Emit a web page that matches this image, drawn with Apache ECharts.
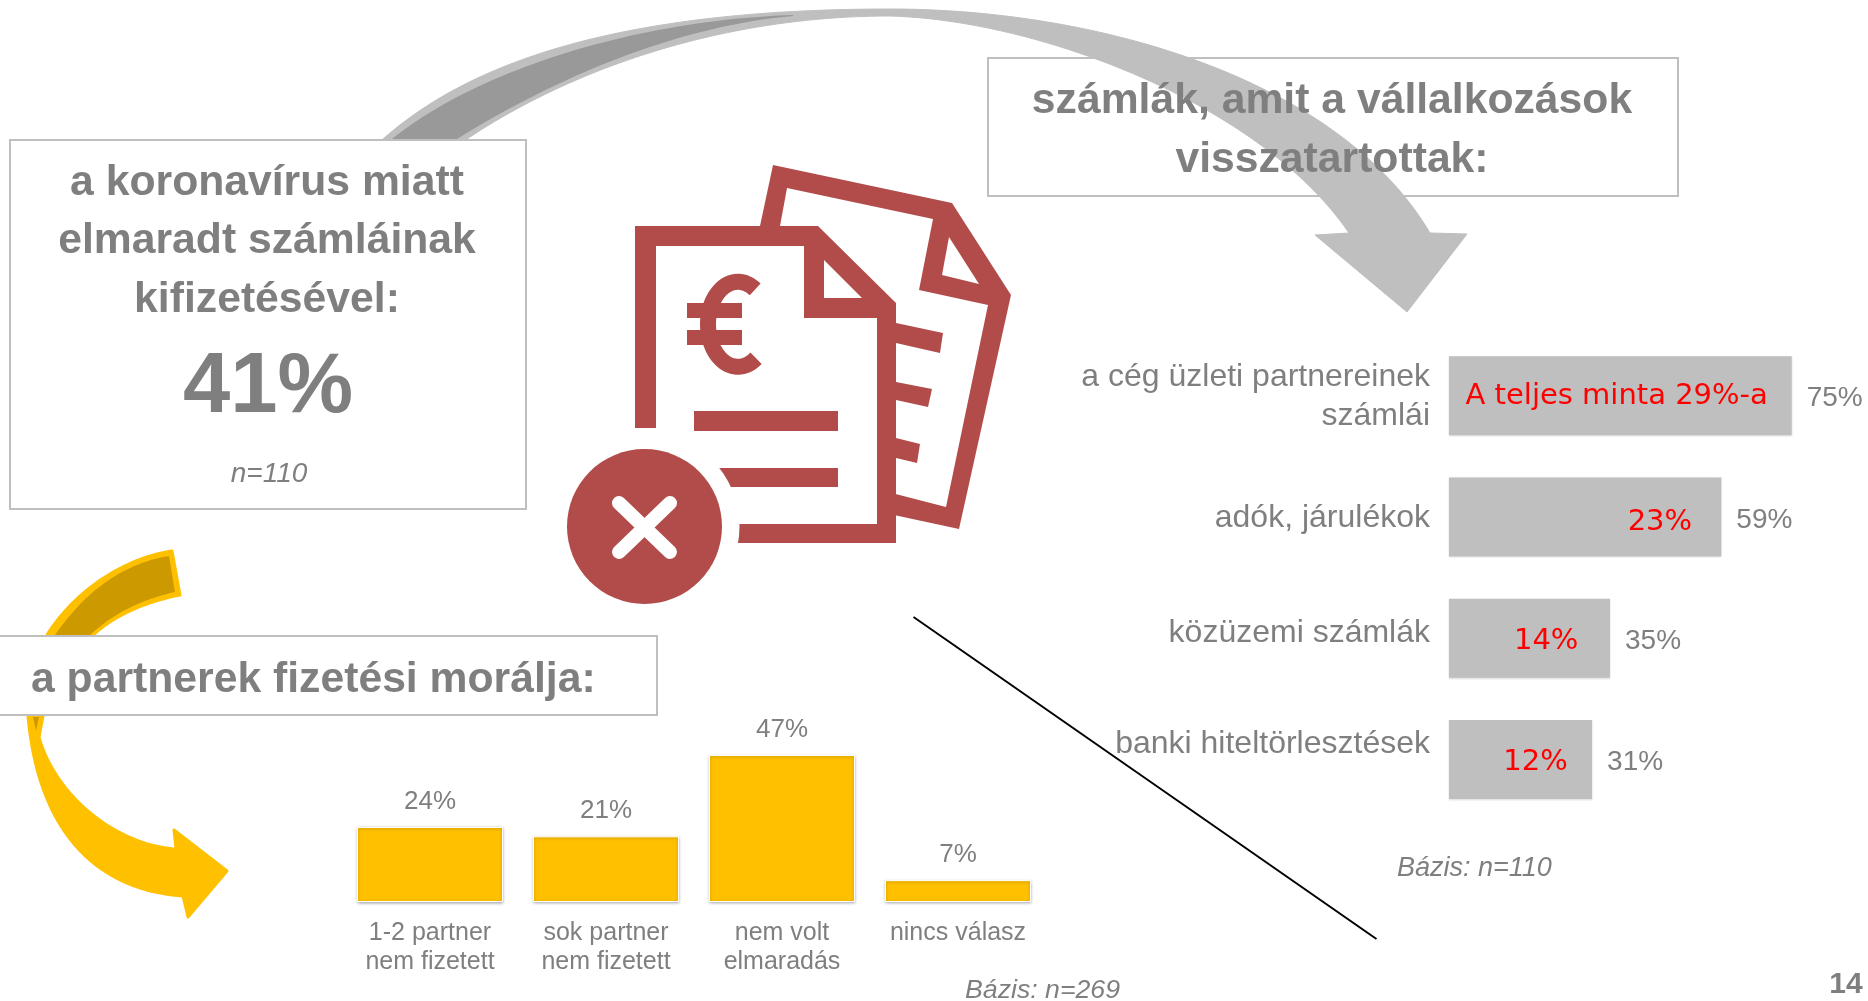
<!DOCTYPE html>
<html>
<head>
<meta charset="utf-8">
<style>html,body{margin:0;padding:0;background:#fff}#c{width:1868px;height:1001px}</style>
<script src="https://cdn.jsdelivr.net/npm/echarts@6/dist/echarts.min.js"></script>
</head>
<body>
<div id="c"></div>
<script>
const moraleCategories = ['1-2 partner\nnem fizetett', 'sok partner\nnem fizetett', 'nem volt\nelmaradás', 'nincs válasz'];
const moraleValues = [24, 21, 47, 7];
const withheldCategories = ['a cég üzleti partnereinek\nszámlái', 'adók, járulékok', 'közüzemi számlák', 'banki hiteltörlesztések'];
const withheldValues = [74.5, 59.2, 35, 31.1];
const wholeSampleValues = [29, 23, 14, 12];

const GREY = '#7f7f7f', FONT = '"Liberation Sans", Arial, sans-serif';
const RED = '#b24c4a';
let z = 1;
function bez(a, b, c, d, n) {
  n = n || 48; const r = [];
  for (let i = 0; i <= n; i++) {
    const t = i / n, u = 1 - t;
    r.push([u*u*u*a[0] + 3*u*u*t*b[0] + 3*u*t*t*c[0] + t*t*t*d[0],
            u*u*u*a[1] + 3*u*u*t*b[1] + 3*u*t*t*c[1] + t*t*t*d[1]]);
  }
  return r;
}
function poly(points, fill, stroke, lw) {
  return {type: 'polygon', z: z++, silent: true, shape: {points},
    style: {fill, stroke: stroke || null, lineWidth: lw || 0, lineJoin: 'round'}};
}
function rect(x, y, w, h, fill, stroke, lw) {
  return {type: 'rect', z: z++, silent: true, shape: {x, y, width: w, height: h},
    style: {fill, stroke: stroke || null, lineWidth: lw || 0}};
}
function circle(cx, cy, r, fill) {
  return {type: 'circle', z: z++, silent: true, shape: {cx, cy, r}, style: {fill}};
}
function line(x1, y1, x2, y2, stroke, lw, cap) {
  return {type: 'line', z: z++, silent: true, shape: {x1, y1, x2, y2},
    style: {stroke, lineWidth: lw, lineCap: cap || 'butt'}};
}
function ellipseArc(cx, cy, rx, ry, from, to, stroke, lw) {
  const points = [];
  for (let a = from; a <= to; a += 4) points.push([cx + rx * Math.cos(a * Math.PI / 180), cy + ry * Math.sin(a * Math.PI / 180)]);
  return {type: 'polyline', z: z++, silent: true, shape: {points}, style: {stroke, lineWidth: lw, fill: null, lineCap: 'butt'}};
}
function text(x, y, t, font, fill, align) {
  return {type: 'text', z: z++, silent: true, x, y,
    style: {text: t, font, fill: fill || GREY, align: align || 'center', textAlign: align || 'center',
      verticalAlign: 'middle', textVerticalAlign: 'middle'}};
}
const BIG = 'bold 42.7px ' + FONT;

const greyArrow = [].concat(
  bez([383,139],[470,62],[620,9],[890,9]),
  bez([890,9],[1100,9],[1340,80],[1430,233]),
  [[1467,234],[1407,312],[1315,235],[1349,233]],
  bez([1349,233],[1262,105],[1040,20],[890,16]),
  bez([890,16],[720,16],[570,70],[467,139])
);
const greyBand = [].concat(
  bez([392,139],[480,68],[640,20],[793,15]),
  bez([793,16],[680,26],[560,75],[457,139])
);
const goldArrow = [].concat(
  bez([172,551],[125,558],[75,590],[47,635]),
  bez([28,716],[38,830],[95,890],[183,896]),
  [[188,917],[227,871],[174,830],[176,849]],
  bez([176,849],[115,845],[55,795],[39,737]),
  [[43,716]],
  bez([93,635],[115,615],[145,602],[180,595])
);
const goldBand = [].concat(
  bez([169,556],[125,563],[85,590],[53,638]),
  bez([87,638],[110,615],[140,600],[175,592])
);

const graphics = [
  // grey curved arrow (behind both boxes' text)
  rect(988, 58, 690, 138, '#fff', '#bfbfbf', 2),
  poly(greyArrow, '#bfbfbf', '#bfbfbf', 1),
  poly(greyBand, '#999999'),
  // left box
  rect(10, 140, 516, 369, '#fff', '#bfbfbf', 2),
  text(267, 183, 'a koronavírus miatt', BIG),
  text(267, 241, 'elmaradt számláinak', BIG),
  text(267, 300, 'kifizetésével:', BIG),
  text(268, 389, '41%', 'bold 85px ' + FONT),
  text(269, 474, 'n=110', 'italic 28px ' + FONT),
  // right box texts
  text(1332, 101, 'számlák, amit a vállalkozások', BIG),
  text(1332, 160, 'visszatartottak:', BIG),
  // gold arrow
  poly(goldArrow, '#ffc000', '#ffc000', 3),
  poly(goldBand, '#cc9a00'),
  poly([[33,717],[39,717],[36,731]], '#cc9a00'),
  rect(-4, 636, 661, 79, '#fff', '#bfbfbf', 2),
  text(31, 680, 'a partnerek fizetési morálja:', BIG, GREY, 'left'),
  // invoice icon: back sheet
  poly([[773,165],[952,203],[1011,295],[959,529],[880,512],[760,226]], RED),
  poly([[787,188],[933,219],[919,290],[988,305],[946,507],[880,490],[780,226]], '#fff'),
  poly([[949,237],[979,284],[942,275]], '#fff'),
  poly([[896,323],[943,333],[940,353],[896,343]], RED),
  poly([[896,382],[932,389],[928,407],[896,400]], RED),
  poly([[896,438],[920,444],[917,463],[896,458]], RED),
  // front sheet
  poly([[635,226],[818,226],[896,303],[896,543],[635,543]], RED),
  poly([[656,246],[804,246],[804,318],[877,318],[877,524],[656,524]], '#fff'),
  poly([[824,260],[862,298],[824,298]], '#fff'),
  // euro sign
  ellipseArc(738, 324.3, 30, 42.5, 53, 307, RED, 16),
  rect(687, 303, 55, 15, RED),
  rect(687, 330, 55, 15, RED),
  // lines on the sheet and the round badge
  rect(694, 411, 144, 20, RED),
  rect(700, 468, 138, 19, RED),
  circle(644.5, 526.5, 95, '#fff'),
  rect(625, 428, 40, 12, '#fff'),
  circle(644.5, 526.5, 77.5, RED),
  line(619, 503, 670, 552, '#fff', 14, 'round'),
  line(670, 503, 619, 552, '#fff', 14, 'round'),
  // diagonal line, footnotes, page number
  line(913.5, 617, 1376.5, 939, '#000', 2),
  text(1397, 868, 'Bázis: n=110', 'italic 27px ' + FONT, GREY, 'left'),
  text(965, 991, 'Bázis: n=269', 'italic 26.7px ' + FONT, GREY, 'left'),
  text(1846, 985, '14', 'bold 30px ' + FONT)
];

const chart = echarts.init(document.getElementById('c'), null, {renderer: 'canvas'});
const redOffsets = [[101, 1], [158, 6], [65, 3], [59, 3]];
const catStyle = {fontSize: 32, lineHeight: 39, color: GREY, fontFamily: FONT, align: 'right'};
chart.setOption({
  animation: false,
  backgroundColor: '#fff',
  textStyle: {fontFamily: FONT},
  graphic: {elements: graphics},
  grid: [
    {left: 342, top: 755, width: 704, height: 147, containLabel: false},
    {left: 1449, top: 335, width: 368, height: 485, containLabel: false}
  ],
  xAxis: [
    {type: 'category', gridIndex: 0, data: moraleCategories,
      axisLine: {show: false}, axisTick: {show: false},
      axisLabel: {interval: 0, margin: 17, fontSize: 25, lineHeight: 29, color: GREY, fontFamily: FONT}},
    {type: 'value', gridIndex: 1, min: 0, max: 80, show: false}
  ],
  yAxis: [
    {type: 'value', gridIndex: 0, min: 0, max: 47, show: false},
    {type: 'category', gridIndex: 1, inverse: true, data: withheldCategories,
      axisLine: {show: false}, axisTick: {show: false},
      axisLabel: {
        interval: 0, margin: 19, align: 'right',
        formatter: (v, i) => v.split('\n').map(s => '{r' + i + '|' + s + '}').join('\n'),
        rich: {
          r0: Object.assign({}, catStyle, {padding: [2, 0, 0, 0]}),
          r1: Object.assign({}, catStyle, {padding: [2, 0, 0, 0]}),
          r2: Object.assign({}, catStyle, {padding: [0, 0, 9, 0]}),
          r3: Object.assign({}, catStyle, {padding: [0, 0, 30, 0]})
        }
      }}
  ],
  series: [
    {type: 'bar', name: 'fizetési morál', xAxisIndex: 0, yAxisIndex: 0, data: moraleValues, barWidth: 146,
      itemStyle: {color: '#ffc000', borderColor: '#fff', borderWidth: 1, shadowColor: 'rgba(0,0,0,0.3)', shadowBlur: 3, shadowOffsetY: 1},
      label: {show: true, position: 'top', distance: 12, fontSize: 26, color: GREY, fontFamily: FONT, formatter: p => p.value + '%'}},
    {type: 'bar', name: 'visszatartott számlák', xAxisIndex: 1, yAxisIndex: 1, data: withheldValues, barWidth: 79, barGap: '-100%',
      itemStyle: {color: '#bfbfbf', shadowColor: 'rgba(0,0,0,0.15)', shadowBlur: 2, shadowOffsetY: 1},
      label: {show: true, position: 'right', distance: 15, offset: [0, 3], fontSize: 28, color: GREY, fontFamily: FONT, formatter: p => Math.round(p.value) + '%'}},
    {type: 'bar', name: 'teljes minta', xAxisIndex: 1, yAxisIndex: 1, barWidth: 79, barGap: '-100%', z: 5,
      data: wholeSampleValues.map((v, i) => ({value: v, label: {offset: redOffsets[i]}})),
      itemStyle: {color: 'rgba(0,0,0,0)'},
      label: {show: true, position: 'inside', fontSize: 29, color: '#ff0000', fontFamily: '"DejaVu Sans", sans-serif',
        formatter: p => p.dataIndex === 0 ? 'A teljes minta ' + p.value + '%-a' : p.value + '%'}}
  ]
});
</script>
</body>
</html>
